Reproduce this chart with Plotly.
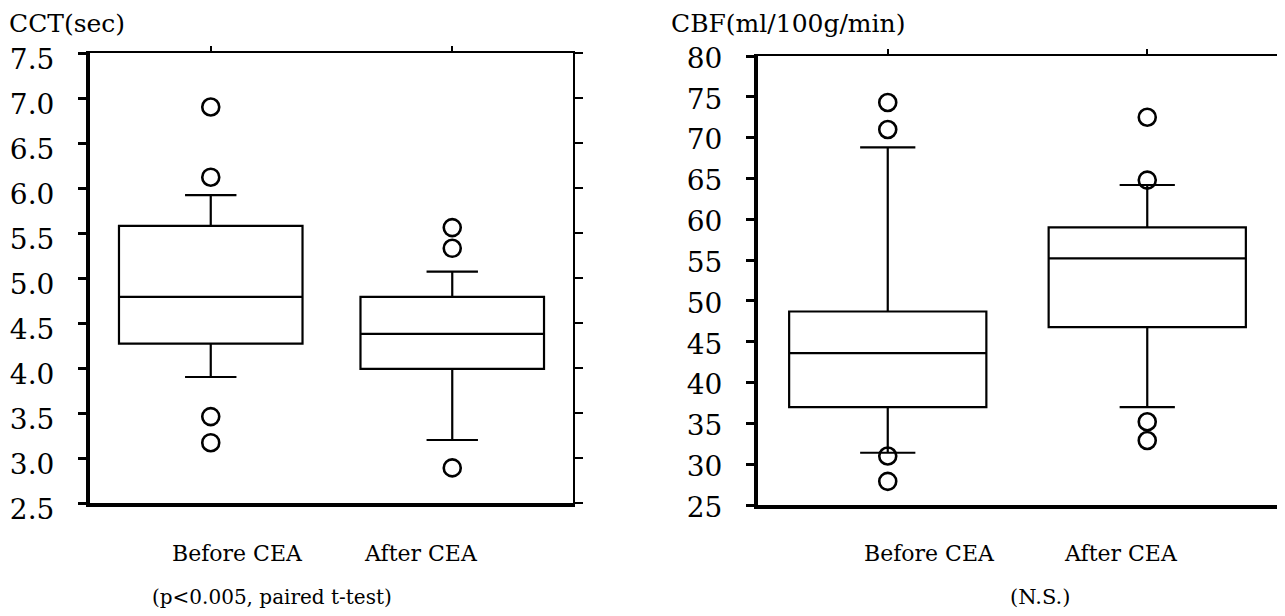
import plotly.graph_objects as go

# ---------------- data ----------------
categories = ["Before CEA", "After CEA"]

cct_q1 = [4.27, 3.99]
cct_median = [4.79, 4.38]
cct_q3 = [5.58, 4.79]
cct_lower = [3.90, 3.20]
cct_upper = [5.92, 5.07]
cct_outliers = [[6.90, 6.12, 3.46, 3.17], [5.56, 5.33, 2.89]]

cbf_q1 = [37.0, 46.8]
cbf_median = [43.6, 55.2]
cbf_q3 = [48.7, 59.0]
cbf_lower = [31.4, 37.0]
cbf_upper = [68.8, 64.2]
cbf_outliers = [[74.3, 71.0, 31.0, 27.9], [72.5, 64.8, 35.2, 32.9]]

cct_ticks = [2.5, 3.0, 3.5, 4.0, 4.5, 5.0, 5.5, 6.0, 6.5, 7.0, 7.5]
cbf_ticks = [25, 30, 35, 40, 45, 50, 55, 60, 65, 70, 75, 80]

cct_title = "CCT(sec)"
cbf_title = "CBF(ml/100g/min)"
cct_note = "(p<0.005, paired t-test)"
cbf_note = "(N.S.)"

# ---------------- figure ----------------
W, H = 1285, 616
OFF = 8  # the page body margin shifts the figure by this many px
FONT = "DejaVu Serif"
positions = list(range(len(categories)))


def px_x(v):
    return max(v - OFF, 0) / W


def px_y(v):
    return 1 - (v - OFF) / H


fig = go.Figure()

panels = [
    dict(q1=cct_q1, med=cct_median, q3=cct_q3, lo=cct_lower, hi=cct_upper,
         out=cct_outliers, xa="x", ya="y", xo="x3", yo="y3"),
    dict(q1=cbf_q1, med=cbf_median, q3=cbf_q3, lo=cbf_lower, hi=cbf_upper,
         out=cbf_outliers, xa="x2", ya="y2", xo="x4", yo="y4"),
]

for p in panels:
    for i in positions:
        fig.add_trace(go.Box(
            x=[i], q1=[p["q1"][i]], median=[p["med"][i]], q3=[p["q3"][i]],
            lowerfence=[p["lo"][i]], upperfence=[p["hi"][i]],
            boxpoints=False, width=0.76, whiskerwidth=0.28,
            fillcolor="white", line=dict(color="black", width=2.2),
            xaxis=p["xa"], yaxis=p["ya"], showlegend=False, hoverinfo="skip",
        ))
        fig.add_trace(go.Scatter(
            x=[i] * len(p["out"][i]), y=p["out"][i], mode="markers",
            marker=dict(symbol="circle-open", size=17, color="black",
                        line=dict(width=2.6, color="black")),
            xaxis=p["xo"], yaxis=p["yo"], showlegend=False, hoverinfo="skip",
        ))

xr = [-0.5, len(categories) - 0.5]
left_x = [px_x(90), px_x(573)]
left_y = [px_y(503), px_y(53)]
right_x = [px_x(758), px_x(1277)]
right_y = [px_y(505), px_y(56)]

tickfont = dict(family=FONT, size=28, color="black")


def bottom_x(domain, anchor):
    return dict(domain=domain, anchor=anchor, range=xr, showline=True,
                linewidth=4, linecolor="black", ticks="", showticklabels=False,
                showgrid=False, zeroline=False, fixedrange=True, automargin=False)


def top_x(over, anchor):
    return dict(overlaying=over, anchor=anchor, side="top", range=xr,
                tickmode="array", tickvals=positions, ticks="outside",
                ticklen=5, tickwidth=2, tickcolor="black", showline=True,
                linewidth=2, linecolor="black", showticklabels=False,
                showgrid=False, zeroline=False, fixedrange=True, automargin=False)


def left_y_axis(domain, anchor, rng, vals, fmt, shift):
    return dict(domain=domain, anchor=anchor, range=rng, tickmode="array",
                tickvals=vals, tickformat=fmt, ticks="outside", ticklen=8,
                tickwidth=3, tickcolor="black", showline=True, linewidth=4,
                linecolor="black", showgrid=False, zeroline=False,
                tickfont=tickfont, ticklabelstandoff=18, ticklabelshift=shift,
                fixedrange=True, automargin=False)


def right_y_axis(over, anchor, rng, vals):
    return dict(overlaying=over, anchor=anchor, side="right", range=rng,
                tickmode="array", tickvals=vals, ticks="outside", ticklen=8,
                tickwidth=2, tickcolor="black", showline=True, linewidth=2,
                linecolor="black", showticklabels=False, showgrid=False,
                zeroline=False, fixedrange=True, automargin=False)


fig.update_layout(
    width=W, height=H, autosize=False,
    margin=dict(l=0, r=0, t=0, b=0, pad=0, autoexpand=False),
    paper_bgcolor="white", plot_bgcolor="rgba(0,0,0,0)",
    font=dict(family=FONT, color="black"),
    xaxis=bottom_x(left_x, "y"),
    xaxis3=top_x("x", "y3"),
    yaxis=left_y_axis(left_y, "x", [cct_ticks[0], cct_ticks[-1]], cct_ticks, ".1f", 6),
    yaxis3=right_y_axis("y", "x3", [cct_ticks[0], cct_ticks[-1]], cct_ticks),
    xaxis2=bottom_x(right_x, "y2"),
    xaxis4=top_x("x2", "y4"),
    yaxis2=left_y_axis(right_y, "x2", [cbf_ticks[0], cbf_ticks[-1]], cbf_ticks, "d", 2),
    yaxis4=right_y_axis("y2", "x4", [cbf_ticks[0], cbf_ticks[-1]], cbf_ticks),
)

annotations = []
catfont = dict(family=FONT, size=22, color="black")
notefont = dict(family=FONT, size=20, color="black")
titlefont = dict(family=FONT, size=25, color="black")
# panel titles (anchored to the very top of the figure so they are not clipped)
annotations.append(dict(text=cct_title, xref="paper", yref="paper",
                        x=px_x(4), y=1, xanchor="left", yanchor="top",
                        showarrow=False, font=titlefont, borderpad=0))
annotations.append(dict(text=cbf_title, xref="paper", yref="paper",
                        x=px_x(670), y=1, xanchor="left", yanchor="top",
                        showarrow=False, font=titlefont, borderpad=0))
# category labels
cat_px = [[237, 421], [929, 1121]]
for pane in range(2):
    for i, c in enumerate(categories):
        annotations.append(dict(text=c, xref="paper", yref="paper",
                                x=px_x(cat_px[pane][i]), y=px_y(553),
                                xanchor="center", yanchor="middle",
                                showarrow=False, font=catfont))
# notes
annotations.append(dict(text=cct_note, xref="paper", yref="paper",
                        x=px_x(272), y=px_y(597), xanchor="center", yanchor="middle",
                        showarrow=False, font=notefont))
annotations.append(dict(text=cbf_note, xref="paper", yref="paper",
                        x=px_x(1040), y=px_y(597), xanchor="center", yanchor="middle",
                        showarrow=False, font=dict(family=FONT, size=21, color="black")))
fig.update_layout(annotations=annotations)

fig.write_html("out.html")
